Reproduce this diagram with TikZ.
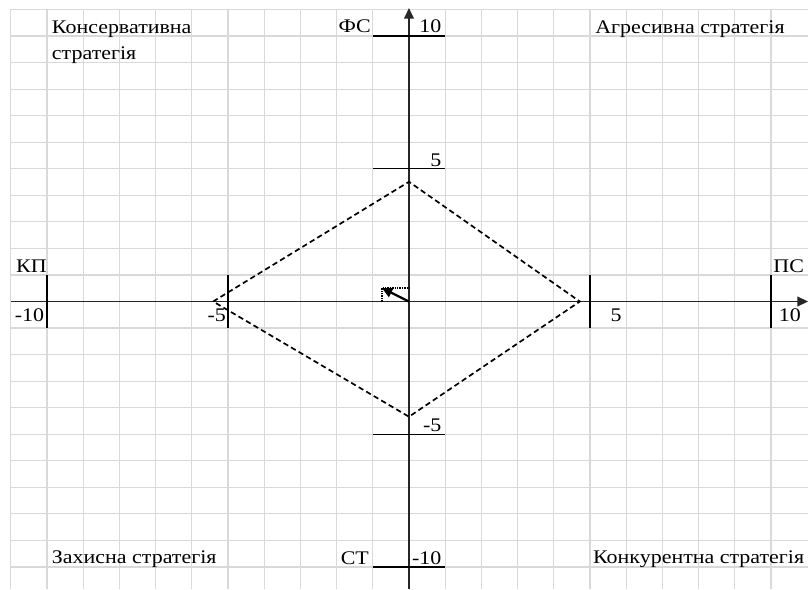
\documentclass[tikz,border=0pt]{standalone}
\usepackage{fontspec}
\setmainfont{Liberation Serif}[FakeStretch=1.14]
\usetikzlibrary{arrows.meta}

\begin{document}
\begin{tikzpicture}[x=0.905cm,y=0.66375cm,
  gridln/.style={black!15,line width=0.8pt},
  axis/.style={line width=1.1pt,black!85,-{Triangle[length=7.5pt,width=7pt]}},
  tck/.style={line width=1pt,black},
  dsh/.style={line width=1.2pt,black,dash pattern=on 3.8pt off 2.4pt},
  lbl/.style={inner sep=0pt,font=\fontsize{13.7}{18.9}\selectfont}]
  \useasboundingbox (-11.298,-10.829) rectangle (11.022,11.356);
  %% cell grid
  \foreach \i in {-11,...,10}
    \draw[gridln] (\i,-10.829) -- (\i,11);
  \foreach \j in {-10,...,11}
    \draw[gridln] (-11,\j) -- (11.022,\j);
  %% axes
  \coordinate (xl) at (-11,0);
  \coordinate (xr) at (11.02,0);
  \coordinate (yb) at (0,-10.829);
  \coordinate (yt) at (0,11.05);
  \draw[axis] (xl) -- (xr);
  \draw[axis] (yb) -- (yt);
  % ticks
  \foreach \t in {-10,-5,5,10} {
    \draw[tck] (\t,-1) -- (\t,1);
    \draw[tck] (-1,\t) -- (1,\t);
  }
  %% dashed diamond
  \coordinate (dl) at (-5.41,0);
  \coordinate (dt) at (0,4.51);
  \coordinate (dr) at (4.72,0);
  \coordinate (db) at (0,-4.34);
  \draw[dsh] (dl) -- (dt) -- (dr) -- (db) -- cycle;
  %% resulting vector
  \coordinate (o)  at (0,0);
  \coordinate (pt) at (-0.75,0.51);
  \coordinate (px) at (-0.75,0);
  \coordinate (py) at (0,0.51);
  \draw[line width=1.1pt,dash pattern=on 1pt off 0.7pt] (px) -- (pt) -- (py);
  \draw[line width=1.6pt,-{Triangle[length=7.5pt,width=7pt]}] (o) -- (pt);
  %% quadrant captions
  \node[lbl,anchor=base west,align=left] (kons) at (-9.87,9.10) {Консервативна\\стратегія};
  \node[lbl,anchor=base west] (agr) at (5.14,10.10) {Агресивна стратегія};
  \node[lbl,anchor=base west] (zah) at (-9.87,-9.86) {Захисна стратегія};
  \node[lbl,anchor=base west] (konk) at (5.08,-9.86) {Конкурентна стратегія};
  %% axis names
  \node[lbl,anchor=base east] (fs) at (-1.05,10.12) {ФС};
  \node[lbl,anchor=base east] (st) at (-1.10,-9.89) {СТ};
  \node[lbl,anchor=base west] (kp) at (-10.86,1.08) {КП};
  \node[lbl,anchor=base west] (ps) at (10.06,1.08) {ПС};
  %% tick values
  \node[lbl,anchor=base east] (v10) at (0.90,10.12) {10};
  \node[lbl,anchor=base east] (v5) at (0.90,5.10) {5};
  \node[lbl,anchor=base east] (vm5) at (0.90,-4.90) {-5};
  \node[lbl,anchor=base east] (vm10) at (0.90,-9.89) {-10};
  \node[lbl,anchor=base east] (hm10) at (-10.07,-0.75) {-10};
  \node[lbl,anchor=base east] (hm5) at (-5.05,-0.75) {-5};
  \node[lbl,anchor=base east] (h5) at (5.88,-0.75) {5};
  \node[lbl,anchor=base east] (h10) at (10.83,-0.75) {10};
\end{tikzpicture}
\end{document}
